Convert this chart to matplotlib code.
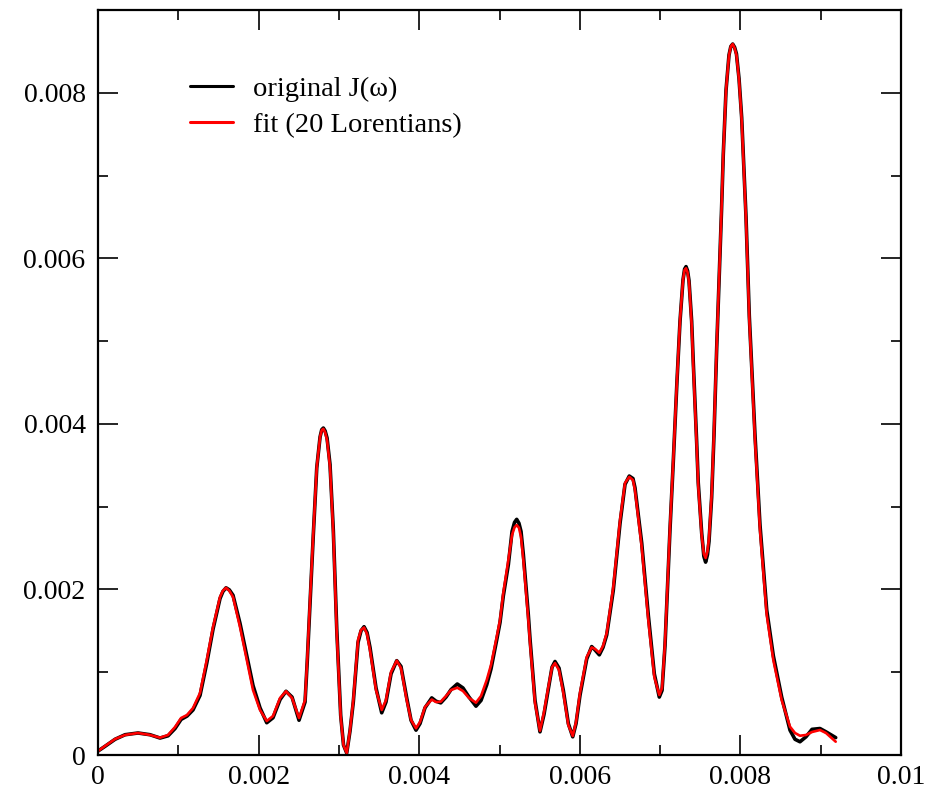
import matplotlib
matplotlib.use("Agg")
import matplotlib.pyplot as plt
from matplotlib.ticker import MultipleLocator, FormatStrFormatter

plt.rcParams['font.family'] = ['Liberation Serif', 'DejaVu Serif']

# frequency grid (units of 1e-3)
omega = [0.000, 0.087, 0.212, 0.336, 0.498, 0.648, 0.772, 0.872, 0.959, 1.034,
         1.108, 1.183, 1.270, 1.354, 1.432, 1.519, 1.555, 1.594, 1.635, 1.681,
         1.768, 1.852, 1.930, 2.017, 2.101, 2.179, 2.267, 2.341, 2.416, 2.503,
         2.578, 2.605, 2.640, 2.681, 2.724, 2.765, 2.786, 2.806, 2.828, 2.852,
         2.889, 2.930, 2.973, 3.022, 3.057, 3.097, 3.138, 3.179, 3.238, 3.275,
         3.313, 3.350, 3.387, 3.462, 3.533, 3.586, 3.649, 3.720, 3.773, 3.844,
         3.898, 3.960, 4.010, 4.072, 4.156, 4.209, 4.268, 4.334, 4.396, 4.474,
         4.545, 4.620, 4.707, 4.770, 4.841, 4.894, 4.965, 5.006, 5.047, 5.110,
         5.156, 5.187, 5.214, 5.242, 5.268, 5.297, 5.359, 5.380, 5.442, 5.504,
         5.554, 5.608, 5.654, 5.691, 5.741, 5.795, 5.857, 5.912, 5.953, 6.002,
         6.086, 6.148, 6.189, 6.243, 6.289, 6.335, 6.417, 6.501, 6.563, 6.616,
         6.662, 6.687, 6.771, 6.853, 6.928, 6.990, 7.024, 7.061, 7.123, 7.164,
         7.210, 7.248, 7.285, 7.305, 7.323, 7.342, 7.360, 7.393, 7.413, 7.455,
         7.475, 7.518, 7.545, 7.567, 7.590, 7.609, 7.642, 7.671, 7.705, 7.725,
         7.737, 7.765, 7.787, 7.821, 7.858, 7.881, 7.904, 7.928, 7.951, 7.983,
         8.016, 8.070, 8.111, 8.182, 8.244, 8.328, 8.410, 8.514, 8.618, 8.680,
         8.742, 8.817, 8.892, 8.991, 9.066, 9.187]

# fitted J(omega), 20 Lorentzians (units of 1e-3)
j_fit = [0.048, 0.109, 0.193, 0.242, 0.266, 0.242, 0.209, 0.242, 0.338, 0.447,
         0.483, 0.568, 0.749, 1.148, 1.546, 1.909, 1.985, 2.020, 1.985, 1.909,
         1.546, 1.148, 0.785, 0.544, 0.411, 0.471, 0.689, 0.770, 0.689, 0.447,
         0.664, 1.150, 1.872, 2.682, 3.479, 3.842, 3.925, 3.940, 3.900, 3.805,
         3.479, 2.682, 1.474, 0.459, 0.121, 0.024, 0.302, 0.664, 1.389, 1.510,
         1.540, 1.462, 1.268, 0.785, 0.544, 0.664, 1.003, 1.140, 1.051, 0.664,
         0.423, 0.323, 0.399, 0.580, 0.670, 0.640, 0.644, 0.713, 0.785, 0.813,
         0.773, 0.689, 0.632, 0.713, 0.906, 1.087, 1.425, 1.631, 1.957, 2.356,
         2.658, 2.750, 2.778, 2.745, 2.634, 2.356, 1.631, 1.353, 0.628, 0.294,
         0.519, 0.821, 1.060, 1.110, 1.027, 0.749, 0.362, 0.230, 0.399, 0.749,
         1.184, 1.300, 1.281, 1.236, 1.317, 1.474, 2.029, 2.839, 3.286, 3.360,
         3.322, 3.201, 2.513, 1.631, 0.942, 0.725, 0.809, 1.353, 2.754, 3.564,
         4.530, 5.255, 5.738, 5.860, 5.880, 5.830, 5.714, 5.200, 4.700, 3.750,
         3.250, 2.650, 2.430, 2.380, 2.460, 2.620, 3.150, 3.900, 4.950, 5.500,
         5.850, 6.600, 7.272, 8.033, 8.456, 8.560, 8.589, 8.540, 8.456, 8.154,
         7.671, 6.463, 5.255, 3.805, 2.718, 1.691, 1.148, 0.664, 0.342, 0.266,
         0.233, 0.242, 0.278, 0.302, 0.266, 0.161]

# original J(omega) (units of 1e-3)
j_orig = [0.048, 0.105, 0.190, 0.245, 0.266, 0.245, 0.205, 0.232, 0.320, 0.430,
          0.470, 0.545, 0.720, 1.110, 1.520, 1.890, 1.975, 2.020, 1.995, 1.930,
          1.590, 1.200, 0.840, 0.570, 0.390, 0.450, 0.670, 0.770, 0.700, 0.420,
          0.640, 1.120, 1.840, 2.660, 3.470, 3.842, 3.930, 3.950, 3.915, 3.830,
          3.510, 2.720, 1.520, 0.480, 0.121, 0.024, 0.290, 0.640, 1.360, 1.500,
          1.550, 1.480, 1.300, 0.810, 0.510, 0.640, 0.980, 1.140, 1.070, 0.690,
          0.420, 0.300, 0.380, 0.570, 0.690, 0.650, 0.630, 0.700, 0.790, 0.858,
          0.810, 0.700, 0.590, 0.660, 0.850, 1.040, 1.390, 1.600, 1.920, 2.300,
          2.700, 2.810, 2.847, 2.800, 2.700, 2.420, 1.690, 1.400, 0.660, 0.280,
          0.490, 0.800, 1.060, 1.130, 1.050, 0.780, 0.380, 0.220, 0.380, 0.720,
          1.160, 1.310, 1.270, 1.210, 1.300, 1.450, 1.990, 2.800, 3.270, 3.370,
          3.340, 3.230, 2.560, 1.690, 0.980, 0.700, 0.780, 1.320, 2.720, 3.540,
          4.510, 5.240, 5.738, 5.870, 5.900, 5.850, 5.730, 5.240, 4.750, 3.790,
          3.290, 2.680, 2.400, 2.330, 2.420, 2.580, 3.110, 3.860, 4.920, 5.480,
          5.830, 6.580, 7.260, 8.030, 8.456, 8.560, 8.589, 8.550, 8.470, 8.170,
          7.700, 6.500, 5.300, 3.860, 2.780, 1.750, 1.200, 0.700, 0.300, 0.190,
          0.160, 0.220, 0.310, 0.320, 0.280, 0.210]

x_orig = [w * 1e-3 for w in omega]
y_orig = [v * 1e-3 for v in j_orig]
x_fit = [w * 1e-3 for w in omega]
y_fit = [v * 1e-3 for v in j_fit]

fig = plt.figure(figsize=(9.5, 7.95), dpi=100)
ax = fig.add_axes([0.1032, 0.0503, 0.8452, 0.9371])

ax.plot(x_orig, y_orig, color='black', lw=2.6, label='original J(\u03c9)',
        solid_joinstyle='round', solid_capstyle='round')
ax.plot(x_fit, y_fit, color='red', lw=1.9, label='fit (20 Lorentians)',
        solid_joinstyle='round', solid_capstyle='round')

ax.set_xlim(0, 0.01)
ax.set_ylim(0, 0.009)
ax.xaxis.set_major_locator(MultipleLocator(0.002))
ax.xaxis.set_minor_locator(MultipleLocator(0.001))
ax.yaxis.set_major_locator(MultipleLocator(0.002))
ax.yaxis.set_minor_locator(MultipleLocator(0.001))
ax.xaxis.set_major_formatter(FormatStrFormatter('%g'))
ax.yaxis.set_major_formatter(FormatStrFormatter('%g'))

for s in ax.spines.values():
    s.set_linewidth(1.6)
ax.tick_params(which='both', direction='in', top=True, right=True, width=1.2, labelsize=20)
ax.tick_params(which='major', length=14.5)
ax.tick_params(which='minor', length=7.5)
ax.tick_params(axis='x', which='major', pad=7)
ax.tick_params(axis='y', which='major', pad=9)

leg = ax.legend(loc='upper left', bbox_to_anchor=(0.1146, 0.912), frameon=False,
                fontsize=20.5, handlelength=1.5, handletextpad=0.72, labelspacing=0.38,
                borderpad=0, borderaxespad=0)
for line in leg.get_lines():
    line.set_linewidth(2.2)

fig.savefig('out.png', dpi=100)
